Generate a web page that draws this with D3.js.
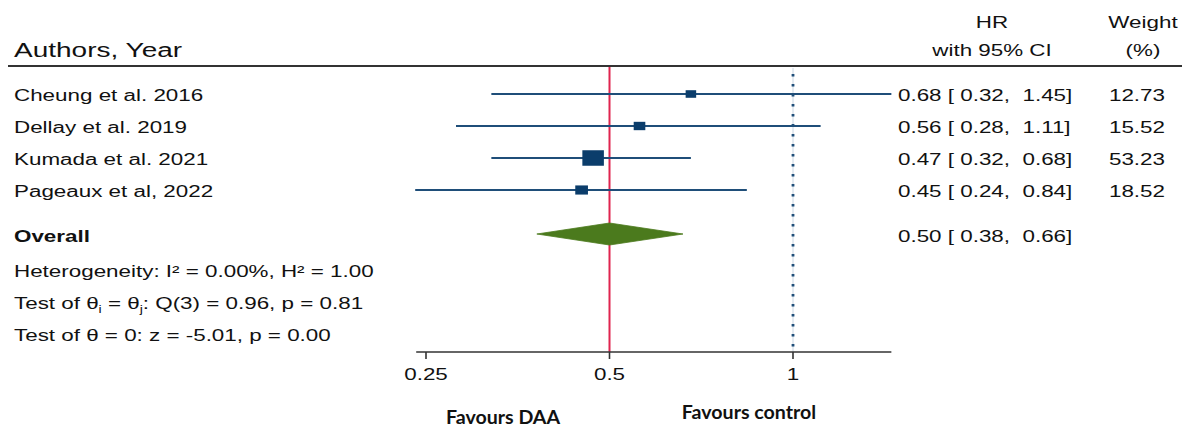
<!DOCTYPE html>
<html><head><meta charset="utf-8">
<script src="https://cdn.jsdelivr.net/npm/d3@7"></script>
<style>html,body{margin:0;padding:0;background:#fff;}svg{display:block;}text{white-space:pre;}</style>
</head><body>
<script>
const studies = ["Cheung et al. 2016","Dellay et al. 2019","Kumada et al. 2021","Pageaux et al, 2022"];
const hr = [0.68,0.56,0.47,0.45];
const lo = [0.32,0.28,0.32,0.24];
const hi = [1.45,1.11,0.68,0.84];
const weights = [12.73,15.52,53.23,18.52];
const hrLabels = ["0.68 [ 0.32,  1.45]","0.56 [ 0.28,  1.11]","0.47 [ 0.32,  0.68]","0.45 [ 0.24,  0.84]"];
const weightLabels = ["12.73","15.52","53.23","18.52"];
const overall = [0.50, 0.38, 0.66];
const overallLabel = "0.50 [ 0.38,  0.66]";
const tickValues = [0.25, 0.5, 1];
const tickLabels = ["0.25","0.5","1"];

const W = 1182, H = 427, SX = 1.4;
const svg = d3.select("body").append("svg").attr("width", W).attr("height", H);
const x = d3.scaleLog().base(2).domain([0.25, 1]).range([426, 793]);
const y = d3.scalePoint().domain(studies).range([94, 190]);
const yOverall = 234, yAxis = 352, yTop = 66;
const navy = "#1f4e79", sq = "#0b3d6b";

function txt(xp, yp, s, o = {}) {
  const t = svg.append("text")
    .attr("transform", `translate(${xp},${yp}) scale(${o.sx || SX},1)`)
    .attr("text-anchor", o.anchor || "start")
    .attr("xml:space", "preserve")
    .attr("font-family", o.family || "'Liberation Sans', Arial, sans-serif")
    .attr("font-size", o.size || 16)
    .attr("font-weight", o.weight || "normal")
    .attr("fill", o.fill || "#111");
  if (typeof s === "string") t.text(s); else s(t);
  return t;
}

// header
txt(14, 57, "Authors, Year", {size: 20});
txt(992, 28, "HR", {anchor: "middle"});
txt(992, 56, "with 95% CI", {anchor: "middle"});
txt(1143, 28, "Weight", {anchor: "middle"});
txt(1143, 56, "(%)", {anchor: "middle"});
svg.append("line").attr("x1", 8).attr("x2", W).attr("y1", yTop).attr("y2", yTop)
  .attr("stroke", "#333").attr("stroke-width", 2);

// reference lines
svg.append("line").attr("x1", x(1)).attr("x2", x(1)).attr("y1", yTop + 2).attr("y2", yAxis)
  .attr("stroke", "#c9d6e3").attr("stroke-width", 1);
svg.append("line").attr("x1", x(1)).attr("x2", x(1)).attr("y1", yTop + 8).attr("y2", yAxis)
  .attr("stroke", navy).attr("stroke-width", 2.8).attr("stroke-dasharray", "2.4,7.6");
svg.append("line").attr("x1", x(overall[0])).attr("x2", x(overall[0])).attr("y1", yTop + 1).attr("y2", yAxis)
  .attr("stroke", "#e0244f").attr("stroke-width", 2);

// studies
const k = 2.95;
studies.forEach((s, i) => {
  const yy = y(s);
  svg.append("line").attr("x1", x(lo[i])).attr("x2", x(hi[i])).attr("y1", yy).attr("y2", yy)
    .attr("stroke", navy).attr("stroke-width", 2);
  const w = k * Math.sqrt(weights[i]), h = w * 0.72;
  svg.append("rect").attr("x", x(hr[i]) - w / 2).attr("y", yy - h / 2).attr("width", w).attr("height", h)
    .attr("fill", sq);
  txt(14, yy + 7, s);
  txt(898, yy + 7, hrLabels[i]);
  txt(1165, yy + 7, weightLabels[i], {anchor: "end"});
});

// overall diamond
const dh = 11;
svg.append("path")
  .attr("d", `M${x(overall[1])},${yOverall} L${x(overall[0])},${yOverall - dh} L${x(overall[2])},${yOverall} L${x(overall[0])},${yOverall + dh} Z`)
  .attr("fill", "#4b7a1d").attr("stroke", "#4b7a1d").attr("stroke-width", 0.8);
txt(14, yOverall + 8, "Overall", {weight: "bold"});
txt(898, yOverall + 8, overallLabel);

// stats text
txt(14, 277, "Heterogeneity: I\u00B2 = 0.00%, H\u00B2 = 1.00");
txt(14, 309, t => {
  t.append("tspan").text("Test of \u03B8");
  t.append("tspan").attr("font-size", 10).attr("dy", 4).text("i");
  t.append("tspan").attr("dy", -4).text(" = \u03B8");
  t.append("tspan").attr("font-size", 10).attr("dy", 4).text("j");
  t.append("tspan").attr("dy", -4).text(": Q(3) = 0.96, p = 0.81");
});
txt(14, 341, "Test of \u03B8 = 0: z = -5.01, p = 0.00");

// axis
const axExt = [d3.min(lo), d3.max(hi)];
svg.append("line").attr("x1", x(axExt[0]) + 1).attr("x2", x(axExt[1])).attr("y1", yAxis).attr("y2", yAxis)
  .attr("stroke", "#333").attr("stroke-width", 1.6);
tickValues.forEach((v, i) => {
  svg.append("line").attr("x1", x(v)).attr("x2", x(v)).attr("y1", yAxis).attr("y2", yAxis + 7)
    .attr("stroke", "#333").attr("stroke-width", 1.6);
  txt(x(v), yAxis + 28, tickLabels[i], {anchor: "middle"});
});

// favours labels
txt(503, 424, "Favours DAA", {anchor: "middle", weight: "bold", family: "Lato, 'Open Sans', sans-serif", size: 18, sx: 1.09});
txt(749, 419, "Favours control", {anchor: "middle", weight: "bold", family: "Lato, 'Open Sans', sans-serif", size: 18, sx: 1.09});
</script>
</body></html>
